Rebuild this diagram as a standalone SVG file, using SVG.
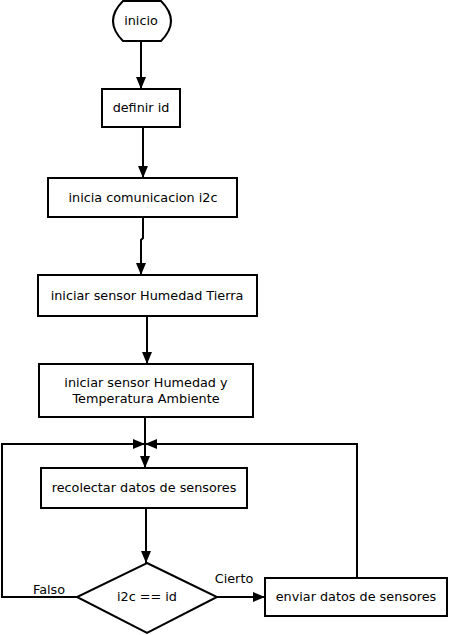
<svg xmlns="http://www.w3.org/2000/svg" width="451" height="635" viewBox="0 0 451 635">
<defs>
<marker id="ah" markerUnits="userSpaceOnUse" markerWidth="12" markerHeight="10" refX="12" refY="5" orient="auto">
<path d="M0,0 L12,5 L0,10 z" fill="#000"/>
</marker>
<style>
.n{fill:#fff;stroke:#000;stroke-width:2}
.c{fill:none;stroke:#000;stroke-width:2;marker-end:url(#ah)}
text{font-family:"DejaVu Sans",sans-serif;font-size:12.8px;fill:#000;text-anchor:middle}
</style>
</defs>
<rect width="451" height="635" fill="#fff"/>
<g id="connectors">
<path class="c" d="M141,41 V89"/>
<path class="c" d="M143,127 V178"/>
<path class="c" d="M143,217 V238 L141,240 V275"/>
<path class="c" d="M147,316 V364"/>
<path class="c" d="M145,417 V468"/>
<path class="c" d="M77,597 H2 V444 H145"/>
<path class="c" d="M357,578 V444 H145"/>
<path class="c" d="M146,508 V563"/>
<path class="c" d="M217,597 H265"/>
<text x="49" y="594">Falso</text>
<text x="234" y="583">Cierto</text>
</g>
<g id="inicio">
<path class="n" d="M123,1 H161 Q181,21 161,41 H123 Q103,21 123,1 Z"/>
<text x="141" y="25">inicio</text>
</g>
<g id="definir">
<rect class="n" x="102" y="89" width="78" height="38"/>
<text x="141" y="112">definir id</text>
</g>
<g id="i2c">
<rect class="n" x="48" y="178" width="189" height="39"/>
<text x="143" y="202">inicia comunicacion i2c</text>
</g>
<g id="tierra">
<rect class="n" x="38" y="275" width="219" height="41"/>
<text x="147" y="300">iniciar sensor Humedad Tierra</text>
</g>
<g id="ambiente">
<rect class="n" x="39" y="364" width="214" height="53"/>
<text x="146" y="387">iniciar sensor Humedad y</text>
<text x="146" y="403">Temperatura Ambiente</text>
</g>
<g id="recolectar">
<rect class="n" x="41" y="468" width="206" height="40"/>
<text x="144" y="492">recolectar datos de sensores</text>
</g>
<g id="decision">
<path class="n" d="M147,563 L217,597 L147,633 L77,597 Z"/>
<text x="147" y="601">i2c == id</text>
</g>
<g id="enviar">
<rect class="n" x="265" y="578" width="182" height="38"/>
<text x="356" y="601">enviar datos de sensores</text>
</g>
</svg>
